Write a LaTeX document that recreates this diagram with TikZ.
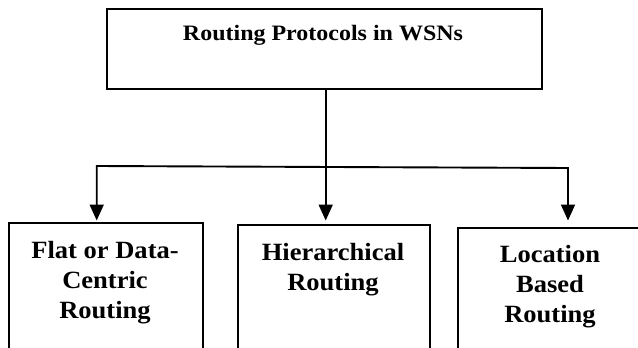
\documentclass[tikz,border=0pt]{standalone}
\usepackage{fontspec}
\setmainfont{Liberation Serif}
\usepackage{graphicx}
\usetikzlibrary{arrows.meta}
\tikzset{
  boxshape/.style={draw=black, line width=1.9pt, rectangle, inner sep=0pt, anchor=north west},
  conn/.style={draw=black, line width=1.9pt},
  tip/.style={-{Triangle[width=14pt,length=16pt]}},
  titletext/.style={anchor=base, inner sep=0pt, font=\bfseries\fontsize{22}{26}\selectfont},
  leaftext/.style={anchor=base, inner sep=0pt, font=\bfseries\fontsize{24.8}{30}\selectfont}
}
\newcommand{\stretchtext}[2]{\scalebox{#1}[1]{\begin{tabular}[t]{@{}c@{}}#2\end{tabular}}}
\begin{document}
\begin{tikzpicture}[x=1pt,y=-1pt]
\useasboundingbox (0,0) rectangle (638,348);
\clip (0,0) rectangle (638,348);
\fill[white] (0,0) rectangle (638,348);
% boxes
\node[boxshape, minimum width=435pt, minimum height=80pt] (top) at (106,8) {};
\node[boxshape, minimum width=194pt, minimum height=140pt] (bl) at (8,222) {};
\node[boxshape, minimum width=192pt, minimum height=140pt] (bm) at (237,224) {};
\node[boxshape, minimum width=186pt, minimum height=140pt] (br) at (457,227) {};
% texts
\node[titletext] (ttitle) at (323,41) {\stretchtext{1.09}{Routing Protocols in WSNs}};
\node[leaftext] (tl) at (105,258) {\stretchtext{1.07}{Flat or Data-\\Centric\\Routing}};
\node[leaftext] (tm) at (333,260) {\stretchtext{1.07}{Hierarchical\\Routing}};
\node[leaftext] (tr) at (550,262) {\stretchtext{1.07}{Location\\Based\\Routing}};
% junctions and arrow ends
\coordinate (jL) at (96.7,166);
\coordinate (jM) at (325.7,167);
\coordinate (jR) at (568,168);
\coordinate (eL) at (96.7,220.5);
\coordinate (eM) at (325.7,220.5);
\coordinate (eR) at (568,220.5);
% connectors
\draw[conn, {Triangle[width=14pt,length=16pt]}-{Triangle[width=14pt,length=16pt]}] (eL) -- (jL) -- (jR) -- (eR);
\draw[conn, tip] (jM |- top.south) -- (eM);
\end{tikzpicture}
\end{document}
